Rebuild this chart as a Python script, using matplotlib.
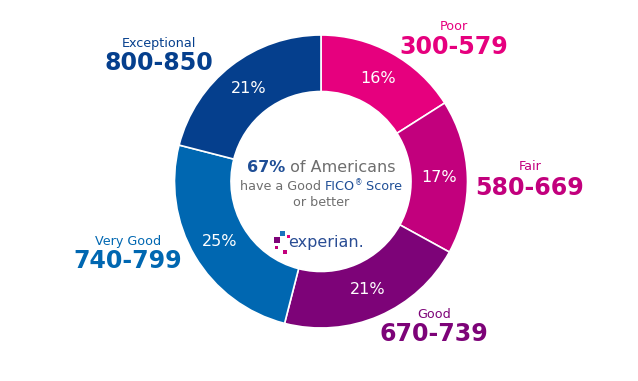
import matplotlib.pyplot as plt
from matplotlib.patches import Rectangle

plt.rcParams['font.family'] = ['DejaVu Sans']

# data
categories = ['Poor', 'Fair', 'Good', 'Very Good', 'Exceptional']
ranges = ['300-579', '580-669', '670-739', '740-799', '800-850']
shares = [16, 17, 21, 25, 21]
colors = ['#E6007E', '#C2007D', '#7D0378', '#0067B1', '#053F8D']

W, H = 638, 381
fig = plt.figure(figsize=(W / 100, H / 100), dpi=100)
ax = fig.add_axes([0, 0, 1, 1])

cx, cy, R = 321, H - 181.5, 146.5
wedges, _, autotexts = ax.pie(
    shares, colors=colors, startangle=90, counterclock=False,
    center=(cx, cy), radius=R, autopct='%d%%', pctdistance=0.805,
    wedgeprops=dict(width=R - 90, edgecolor='white', linewidth=1.2),
    textprops=dict(color='white', fontsize=11.5))
ax.set_xlim(0, W)
ax.set_ylim(0, H)
ax.set_aspect('equal')
ax.axis('off')

# outer category labels (x, y of small label, y of range)
label_pos = [
    (454, 27, 47),
    (530, 167, 188),
    (434, 315, 334),
    (128, 242, 261),
    (159, 44, 63),
]
for cat, rng, col, (x, y1, y2) in zip(categories, ranges, colors, label_pos):
    ax.text(x, H - y1, cat, color=col, fontsize=9.2, ha='center', va='center')
    ax.text(x, H - y2, rng, color=col, fontsize=17, fontweight='bold',
            ha='center', va='center')


def centered_line(parts, y):
    """draw a line of text pieces with different styles, centred on cx"""
    r = fig.canvas.get_renderer()
    texts = []
    for s, kw in parts:
        kw = dict(kw)
        dy = kw.pop('dy', 0)
        texts.append(ax.text(0, H - y + dy, s, va='center', ha='left', **kw))
    widths = [t.get_window_extent(r).width for t in texts]
    x = cx - sum(widths) / 2
    for t, w in zip(texts, widths):
        t.set_x(x)
        x += w


gray = '#6e6e6e'
navy = '#1F4E96'
centered_line([('67%', dict(color=navy, fontsize=11.5, fontweight='bold')),
               (' of Americans', dict(color=gray, fontsize=11.5))], 168)
centered_line([('have a Good ', dict(color=gray, fontsize=9.2)),
               ('FICO', dict(color=navy, fontsize=9.2)),
               ('®', dict(color=navy, fontsize=5.5, dy=3)),
               (' Score', dict(color=navy, fontsize=9.2))], 186)
centered_line([('or better', dict(color=gray, fontsize=9.2))], 203)

# experian logo
ax.text(288, H - 242, 'experian.', color='#2A4D94', fontsize=11.5, va='center', ha='left')
squares = [(280, 231, 5, '#1C73BE'), (287, 235, 3, '#E6007E'), (274, 237, 6, '#7D0378'),
           (275, 246, 3, '#C2007D'), (283, 250, 4, '#C2007D')]
for x, y, s, c in squares:
    ax.add_patch(Rectangle((x, H - y - s), s, s, color=c, linewidth=0))

fig.savefig('out.png', dpi=100)
